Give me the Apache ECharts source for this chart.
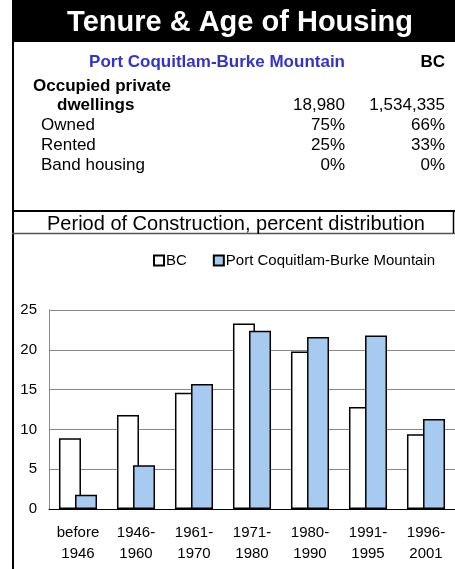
<!DOCTYPE html>
<html>
<head>
<meta charset="utf-8">
<script src="https://cdn.jsdelivr.net/npm/echarts@6/dist/echarts.min.js"></script>
<style>
  html, body { margin: 0; padding: 0; background: #fff; }
  #chart { width: 455px; height: 569px; }
</style>
</head>
<body>
<div id="chart"></div>
<script>
var periods = ["before\n1946", "1946-\n1960", "1961-\n1970", "1971-\n1980", "1980-\n1990", "1991-\n1995", "1996-\n2001"];
var bcValues = [8.9, 11.8, 14.6, 23.3, 19.8, 12.8, 9.4];
var localValues = [1.8, 5.5, 15.7, 22.4, 21.6, 21.8, 11.3];
var seriesNames = ["BC", "Port Coquitlam-Burke Mountain"];

var tenureRows = ["Owned", "Rented", "Band housing"];
var tenureLocal = ["75%", "25%", "0%"];
var tenureBC = ["66%", "33%", "0%"];
var dwellingsLocal = "18,980";
var dwellingsBC = "1,534,335";

var font = "Liberation Sans, Arial, sans-serif";

var chart = echarts.init(document.getElementById("chart"));

function txt(x, y, s, opts) {
  return {
    type: "text",
    style: Object.assign({ x: x, y: y, text: s, fill: "#000", font: "17px " + font, textVerticalAlign: "middle" }, opts || {})
  };
}

var graphics = [
  { type: "rect", shape: { x: 12, y: 0, width: 450, height: 42 }, style: { fill: "#000" } },
  txt(240, 23, "Tenure & Age of Housing", { fill: "#fff", font: "bold 29px " + font, textAlign: "center" }),
  { type: "line", shape: { x1: 13, y1: 0, x2: 13, y2: 569 }, style: { stroke: "#000", lineWidth: 2 } },
  { type: "line", shape: { x1: 12, y1: 211, x2: 460, y2: 211 }, style: { stroke: "#000", lineWidth: 2 } },
  { type: "line", shape: { x1: 12, y1: 233.5, x2: 460, y2: 233.5 }, style: { stroke: "#555", lineWidth: 1.5 } },
  { type: "line", shape: { x1: 453.5, y1: 211, x2: 453.5, y2: 233 }, style: { stroke: "#000", lineWidth: 1.5 } },
  txt(345, 62, "Port Coquitlam-Burke Mountain", { textAlign: "right", fill: "#3333cc", font: "bold 17px " + font }),
  txt(445, 62, "BC", { textAlign: "right", font: "bold 17px " + font }),
  txt(33, 86, "Occupied private", { font: "bold 17px " + font }),
  txt(57, 105, "dwellings", { font: "bold 17px " + font }),
  txt(345, 105, dwellingsLocal, { textAlign: "right" }),
  txt(445, 105, dwellingsBC, { textAlign: "right" }),
  txt(236, 224, "Period of Construction, percent distribution", { textAlign: "center", font: "20px " + font })
];
tenureRows.forEach(function (name, i) {
  var y = 125 + i * 20;
  graphics.push(txt(41, y, name));
  graphics.push(txt(345, y, tenureLocal[i], { textAlign: "right" }));
  graphics.push(txt(445, y, tenureBC[i], { textAlign: "right" }));
});

chart.setOption({
  animation: false,
  textStyle: { fontFamily: font },
  graphic: graphics,
  legend: {
    left: 148,
    top: 248,
    itemWidth: 10,
    itemHeight: 10,
    itemGap: 26,
    icon: "rect",
    textStyle: { fontSize: 15, color: "#000", fontFamily: font, padding: [0, 0, 0, -3] },
    data: seriesNames
  },
  grid: { left: 49, top: 310, bottom: 60, right: -5 },
  xAxis: {
    type: "category",
    data: periods,
    axisTick: { show: false },
    axisLine: { lineStyle: { color: "#000", width: 1 } },
    axisLabel: { color: "#000", fontSize: 15, lineHeight: 21, margin: 13 }
  },
  yAxis: {
    type: "value",
    min: 0,
    max: 25,
    interval: 5,
    axisLine: { show: true, lineStyle: { color: "#888" } },
    axisTick: { show: false },
    splitLine: { lineStyle: { color: "#888", width: 1 } },
    axisLabel: { color: "#000", fontSize: 15, margin: 12 }
  },
  series: [
    {
      name: seriesNames[0],
      type: "bar",
      data: bcValues,
      barWidth: 22,
      barGap: "-27%",
      itemStyle: { color: "#fff", borderColor: "#000", borderWidth: 1.5 }
    },
    {
      name: seriesNames[1],
      type: "bar",
      data: localValues,
      barWidth: 22,
      itemStyle: { color: "#a6caf0", borderColor: "#000", borderWidth: 1.5 }
    }
  ]
});
</script>
</body>
</html>
